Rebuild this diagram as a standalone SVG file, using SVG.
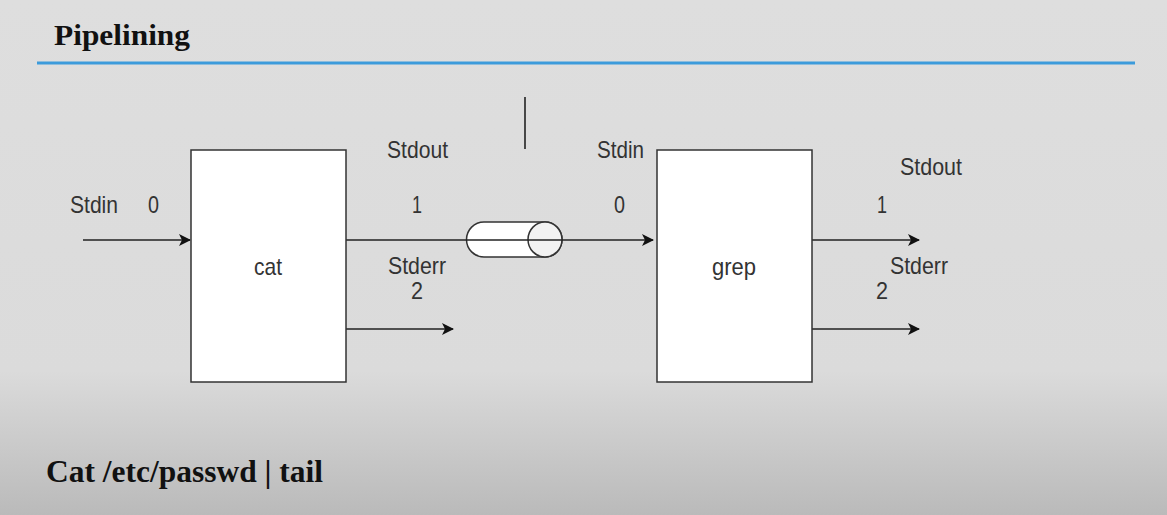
<svg xmlns="http://www.w3.org/2000/svg" width="1167" height="515" viewBox="0 0 1167 515">
<defs>
<linearGradient id="bg" x1="0" y1="0" x2="0" y2="1">
<stop offset="0" stop-color="#dedede"/>
<stop offset="0.72" stop-color="#dbdbdb"/>
<stop offset="1" stop-color="#bababa"/>
</linearGradient>
<marker id="arr" viewBox="0 0 12 12" refX="11" refY="6" markerWidth="12" markerHeight="12" markerUnits="userSpaceOnUse" orient="auto">
<path d="M0,0 L12,6 L0,12 L3,6 Z" fill="#111"/>
</marker>
<style>
.lbl{font-family:"Liberation Sans",Arial,sans-serif;font-size:24px;fill:#333}
.box{fill:#ffffff;stroke:#333;stroke-width:1.5}
.ln{stroke:#222;stroke-width:1.6;fill:none}
.hd{font-family:"Liberation Serif",serif;font-weight:bold;fill:#111}
</style>
</defs>
<rect width="1167" height="515" fill="url(#bg)"/>
<text class="hd" x="54" y="45" font-size="30" textLength="136" lengthAdjust="spacingAndGlyphs">Pipelining</text>
<line x1="37" y1="63" x2="1135" y2="63" stroke="#3c9bdb" stroke-width="3"/>
<g id="connectors">
<line class="ln" x1="83" y1="240" x2="190" y2="240" marker-end="url(#arr)"/>
<line class="ln" x1="346" y1="329" x2="453" y2="329" marker-end="url(#arr)"/>
<line class="ln" x1="812" y1="240" x2="919" y2="240" marker-end="url(#arr)"/>
<line class="ln" x1="812" y1="329" x2="919" y2="329" marker-end="url(#arr)"/>
<line class="ln" x1="525" y1="97" x2="525" y2="149"/>
</g>
<g id="pipe">
<path d="M484,222 L545,222 A17,17.5 0 0 1 545,257 L484,257 A17.5,17.5 0 0 1 484,222 Z" fill="#ffffff" stroke="#333" stroke-width="1.5"/>
<ellipse cx="545" cy="239.5" rx="17" ry="17.5" fill="#f2f2f2" stroke="#333" stroke-width="1.5"/>
<line class="ln" x1="346" y1="240" x2="653" y2="240" marker-end="url(#arr)"/>
</g>
<g id="cat">
<rect class="box" x="191" y="150" width="155" height="232"/>
<text class="lbl" x="254" y="275" textLength="28" lengthAdjust="spacingAndGlyphs">cat</text>
</g>
<g id="grep">
<rect class="box" x="657" y="150" width="155" height="232"/>
<text class="lbl" x="712" y="275" textLength="44" lengthAdjust="spacingAndGlyphs">grep</text>
</g>
<g id="labels">
<text class="lbl" x="70" y="213" textLength="48" lengthAdjust="spacingAndGlyphs">Stdin</text>
<text class="lbl" x="148" y="213" textLength="11" lengthAdjust="spacingAndGlyphs">0</text>
<text class="lbl" x="387" y="158" textLength="61" lengthAdjust="spacingAndGlyphs">Stdout</text>
<text class="lbl" x="412" y="213" textLength="10" lengthAdjust="spacingAndGlyphs">1</text>
<text class="lbl" x="388" y="274" textLength="58" lengthAdjust="spacingAndGlyphs">Stderr</text>
<text class="lbl" x="411" y="299" textLength="12" lengthAdjust="spacingAndGlyphs">2</text>
<text class="lbl" x="597" y="158" textLength="47" lengthAdjust="spacingAndGlyphs">Stdin</text>
<text class="lbl" x="614" y="213" textLength="11" lengthAdjust="spacingAndGlyphs">0</text>
<text class="lbl" x="900" y="175" textLength="62" lengthAdjust="spacingAndGlyphs">Stdout</text>
<text class="lbl" x="877" y="213" textLength="10" lengthAdjust="spacingAndGlyphs">1</text>
<text class="lbl" x="890" y="274" textLength="58" lengthAdjust="spacingAndGlyphs">Stderr</text>
<text class="lbl" x="876" y="299" textLength="12" lengthAdjust="spacingAndGlyphs">2</text>
</g>
<text class="hd" x="46" y="482" font-size="32" textLength="277" lengthAdjust="spacingAndGlyphs">Cat /etc/passwd | tail</text>
</svg>
